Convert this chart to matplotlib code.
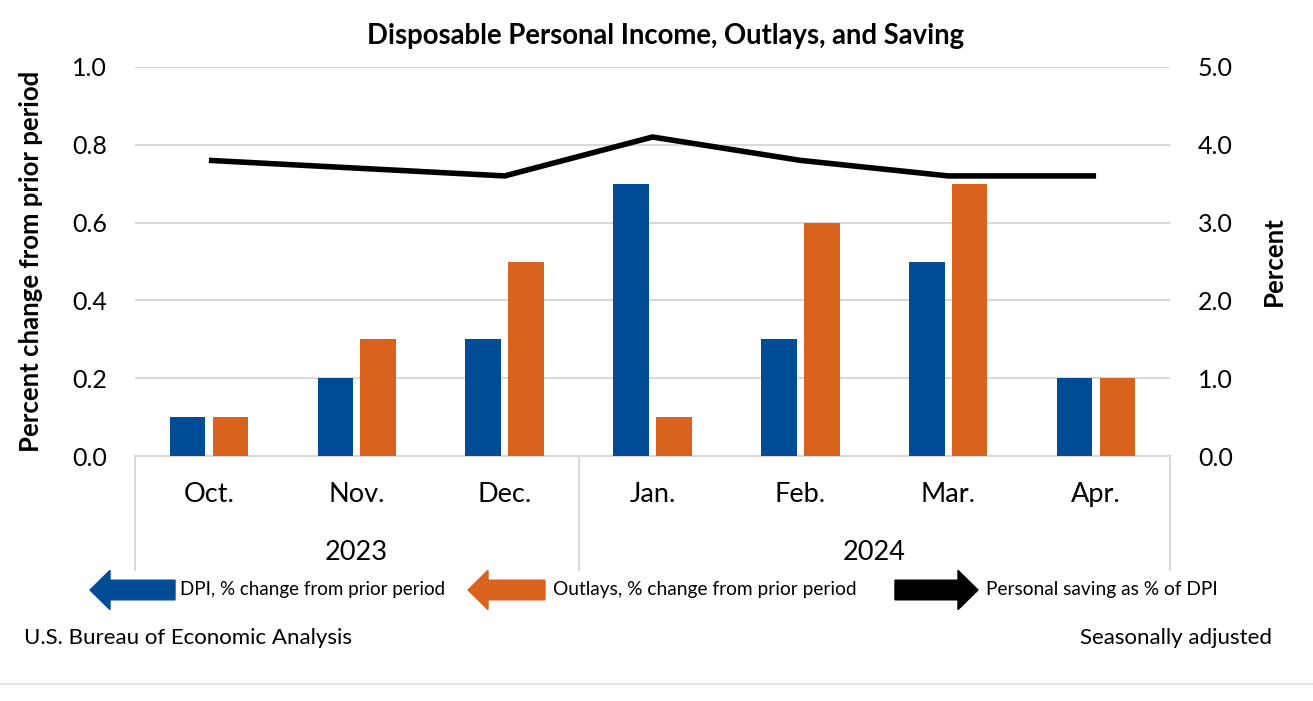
import matplotlib.pyplot as plt
import numpy as np
from matplotlib.patches import FancyArrow
from matplotlib.lines import Line2D

plt.rcParams["font.family"] = ["Lato", "DejaVu Sans"]

months = ["Oct.", "Nov.", "Dec.", "Jan.", "Feb.", "Mar.", "Apr."]
years = ["2023", "2024"]
year_spans = [(0, 3), (3, 7)]
dpi_change = [0.1, 0.2, 0.3, 0.7, 0.3, 0.5, 0.2]
outlays_change = [0.1, 0.3, 0.5, 0.1, 0.6, 0.7, 0.2]
saving_rate = [3.8, 3.7, 3.6, 4.1, 3.8, 3.6, 3.6]

BLUE = "#004c97"
ORANGE = "#d9621c"
GRID = "#d9d9d9"

fig = plt.figure(figsize=(13.13, 7.01), dpi=100)
ax = fig.add_axes([135 / 1313, 1 - 456 / 701, 1035 / 1313, 389 / 701])
ax2 = ax.twinx()

x = np.arange(len(months))
w = 0.24
ax.bar(x - 0.145, dpi_change, w, color=BLUE, zorder=3)
ax.bar(x + 0.145, outlays_change, w, color=ORANGE, zorder=3)
ax2.plot(x, saving_rate, color="black", lw=4, solid_capstyle="butt", zorder=4)

ax.set_xlim(-0.5, len(months) - 0.5)
ax.set_ylim(0, 1.0)
ax.set_yticks(np.arange(0, 1.01, 0.2))
ax.set_yticklabels([f"{v:.1f}" for v in np.arange(0, 1.01, 0.2)])
ax2.set_ylim(0, 5.0)
ax2.set_yticks(np.arange(0, 5.01, 1.0))
ax2.set_yticklabels([f"{v:.1f}" for v in np.arange(0, 5.01, 1.0)])
ax.yaxis.grid(True, color=GRID, lw=1.5, zorder=0)
ax.set_axisbelow(True)

for a in (ax, ax2):
    for s in a.spines.values():
        s.set_visible(False)
    a.tick_params(axis="y", length=0, labelsize=18, pad=20)
ax.spines["bottom"].set_visible(True)
ax.spines["bottom"].set_color(GRID)
ax.spines["bottom"].set_linewidth(1.5)
ax.set_xticks([])

ax.set_ylabel("Percent change from prior period", fontsize=18.5, fontweight="bold", labelpad=21)
ax2.set_ylabel("Percent", fontsize=18.5, fontweight="bold", labelpad=21)

# category labels and year groups
trans = ax.get_xaxis_transform()
for i, m in enumerate(months):
    ax.text(i, -0.1, m, transform=trans, ha="center", va="center", fontsize=19.5)
for yr, (a0, a1) in zip(years, year_spans):
    ax.text((a0 + a1 - 1) / 2, -0.247, yr, transform=trans, ha="center", va="center", fontsize=19.5)
for xb in [-0.5, 3 - 0.5, len(months) - 0.5]:
    ax.add_line(Line2D([xb, xb], [0, -0.293], transform=trans, color=GRID, lw=1.5, clip_on=False))

fig.text(666 / 1313, 1 - 36 / 701, "Disposable Personal Income, Outlays, and Saving",
         ha="center", va="center", fontsize=19.8, fontweight="bold")

# legend with arrows
def arrow(x0, x1, color):
    y = 1 - 590 / 701
    dx = (x1 - x0) / 1313
    fig.patches.append(FancyArrow(x0 / 1313, y, dx, 0, width=0.028, head_width=0.056,
                                  head_length=20 / 1313, length_includes_head=True,
                                  color=color, transform=fig.transFigure))

arrow(175, 90, BLUE)
arrow(545, 468, ORANGE)
arrow(895, 978, "black")
ly = 1 - 590 / 701
fig.text(180 / 1313, ly, "DPI, % change from prior period", ha="left", va="center", fontsize=13.5)
fig.text(553 / 1313, ly, "Outlays, % change from prior period", ha="left", va="center", fontsize=13.8)
fig.text(986 / 1313, ly, "Personal saving as % of DPI", ha="left", va="center", fontsize=13.8)

fig.text(24 / 1313, 1 - 638 / 701, "U.S. Bureau of Economic Analysis", ha="left", va="center", fontsize=16)
fig.text(1272 / 1313, 1 - 638 / 701, "Seasonally adjusted", ha="right", va="center", fontsize=16)
fig.add_artist(Line2D([0, 1], [1 - 684 / 701] * 2, color="#e6e6e6", lw=1.5, transform=fig.transFigure))

fig.savefig("out.png", dpi=100)
